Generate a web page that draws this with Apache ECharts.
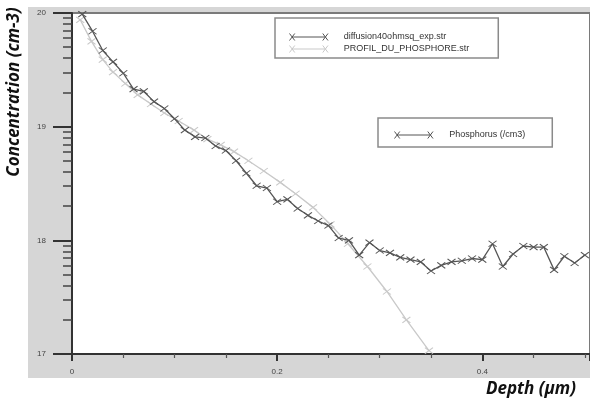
<!DOCTYPE html>
<html>
<head>
<meta charset="utf-8">
<script src="https://cdn.jsdelivr.net/npm/echarts@6/dist/echarts.min.js"></script>
<style>
  html, body { margin: 0; padding: 0; background: #fff; }
  #chart { width: 590px; height: 401px; }
</style>
</head>
<body>
<div id="chart"></div>
<script>
// measured profile (depth in um, log10 of concentration in /cm3)
const expDepth = [
  0.01, 0.02, 0.03, 0.04, 0.05, 0.06, 0.07, 0.08, 0.09, 0.10,
  0.11, 0.12, 0.13, 0.14, 0.15, 0.16, 0.17, 0.18, 0.19, 0.20,
  0.21, 0.22, 0.23, 0.24, 0.25, 0.26, 0.27, 0.28, 0.29, 0.30,
  0.31, 0.32, 0.33, 0.34, 0.35, 0.36, 0.37, 0.38, 0.39, 0.40,
  0.41, 0.42, 0.43, 0.44, 0.45, 0.46, 0.47, 0.48, 0.49, 0.50,
];
const expLogConc = [
  19.99, 19.84, 19.67, 19.57, 19.47, 19.33, 19.31, 19.22, 19.16, 19.07,
  18.97, 18.91, 18.90, 18.83, 18.79, 18.70, 18.59, 18.48, 18.46, 18.34,
  18.36, 18.28, 18.22, 18.17, 18.13, 18.02, 18.00, 17.87, 17.98, 17.91,
  17.89, 17.85, 17.83, 17.81, 17.73, 17.78, 17.81, 17.82, 17.84, 17.83,
  17.97, 17.77, 17.88, 17.95, 17.94, 17.94, 17.74, 17.86, 17.80, 17.87,
];

// simulated profile
const simDepth = [
  0.008, 0.019, 0.030, 0.040, 0.052, 0.064, 0.077, 0.090, 0.104, 0.119,
  0.132, 0.145, 0.158, 0.172, 0.187, 0.203, 0.218, 0.235, 0.252, 0.269,
  0.288, 0.307, 0.326, 0.348,
];
const simLogConc = [
  19.94, 19.75, 19.59, 19.48, 19.38, 19.28, 19.20, 19.12, 19.05, 18.97,
  18.89, 18.84, 18.78, 18.70, 18.61, 18.51, 18.41, 18.29, 18.14, 17.97,
  17.77, 17.55, 17.30, 17.03,
];

const yTicks = [17, 18, 19, 20];
const xTicks = [0, 0.2, 0.4];
const legendA = ['diffusion40ohmsq_exp.str', 'PROFIL_DU_PHOSPHORE.str'];
const legendB = ['Phosphorus (/cm3)'];

// minor ticks of the log axis: k * 10^n
const minorY = [];
for (let d = 17; d < 20; d++) {
  for (let k = 2; k <= 9; k++) minorY.push(d + Math.log10(k));
}

const CROSS = 'path://M0,0L10,8M10,0L0,8';
const LEG_ICON = 'path://M0,0L6,8M6,0L0,8M3,4L41,4M38,0L44,8M44,0L38,8';
const DARK = '#555555';
const LIGHT = '#c9c9c9';

const chart = echarts.init(document.getElementById('chart'));

const legendText = { fontSize: 9, color: '#333', fontFamily: 'Liberation Sans', padding: [0, 0, 0, 10] };

const option = {
  animation: false,
  graphic: [
    {
      type: 'rect',
      z: -10,
      shape: { x: 28, y: 7, width: 570, height: 371 },
      style: { fill: '#d6d6d6' },
    },
    {
      type: 'text',
      x: 14,
      y: 92,
      rotation: Math.PI / 2,
      style: {
        text: 'Concentration (cm-3)',
        font: 'italic bold 17px "Open Sans"',
        fill: '#111',
        align: 'center',
        verticalAlign: 'middle',
      },
    },
    {
      type: 'text',
      x: 531,
      y: 389,
      style: {
        text: 'Depth (\u00b5m)',
        font: 'italic bold 17px "Open Sans"',
        fill: '#111',
        align: 'center',
        verticalAlign: 'middle',
      },
    },
  ],
  grid: {
    left: 72,
    top: 13,
    right: -5,
    bottom: 47,
    show: true,
    backgroundColor: '#fff',
    borderColor: '#7a7a7a',
    borderWidth: 2,
  },
  legend: [
    {
      data: legendA.map((n, i) => ({
        name: n,
        icon: LEG_ICON,
        itemStyle: { color: 'none', borderColor: i ? LIGHT : DARK, borderWidth: 1 },
      })),
      orient: 'vertical',
      left: 275,
      top: 18,
      itemWidth: 40,
      itemHeight: 7,
      itemGap: 0,
      padding: [13, 29, 3, 12],
      borderColor: '#8a8a8a',
      borderWidth: 1.5,
      backgroundColor: '#fff',
      selectedMode: false,
      textStyle: legendText,
    },
    {
      data: legendB.map((n) => ({
        name: n,
        icon: LEG_ICON,
        itemStyle: { color: 'none', borderColor: DARK, borderWidth: 1 },
      })),
      left: 378,
      top: 118,
      itemWidth: 41,
      itemHeight: 7,
      padding: [11, 27, 6, 14],
      borderColor: '#8a8a8a',
      borderWidth: 1.5,
      backgroundColor: '#fff',
      selectedMode: false,
      textStyle: legendText,
    },
  ],
  xAxis: {
    type: 'value',
    min: 0,
    max: 0.505,
    interval: 0.2,
    splitLine: { show: false },
    axisLine: { lineStyle: { color: '#333', width: 2 } },
    axisTick: { length: 7, lineStyle: { color: '#333', width: 2 } },
    minorTick: { show: true, splitNumber: 4, length: 4, lineStyle: { color: '#555', width: 1.2 } },
    axisLabel: {
      fontSize: 8,
      color: '#444',
      margin: 14,
      fontFamily: 'Liberation Sans',
      customValues: xTicks,
    },
  },
  yAxis: [
    {
      type: 'value',
      min: 17,
      max: 20,
      interval: 1,
      splitLine: { show: false },
      axisLine: { lineStyle: { color: '#333', width: 2 } },
      axisTick: { length: 19, lineStyle: { color: '#333', width: 2 }, customValues: yTicks },
      axisLabel: {
        fontSize: 8,
        color: '#444',
        margin: 26,
        fontFamily: 'Liberation Sans',
        customValues: yTicks,
      },
    },
    {
      type: 'value',
      min: 17,
      max: 20,
      position: 'left',
      splitLine: { show: false },
      axisLine: { show: false },
      axisLabel: { show: false },
      axisTick: { length: 9, lineStyle: { color: '#444', width: 1.5 }, customValues: minorY },
    },
  ],
  series: [
    {
      name: legendA[0],
      type: 'line',
      data: expDepth.map((d, i) => [d, expLogConc[i]]),
      symbol: CROSS,
      symbolSize: [8, 6],
      lineStyle: { color: DARK, width: 1.3 },
      itemStyle: { color: 'none', borderColor: DARK, borderWidth: 1 },
      z: 3,
    },
    {
      name: legendA[1],
      type: 'line',
      data: simDepth.map((d, i) => [d, simLogConc[i]]),
      symbol: CROSS,
      symbolSize: [8, 6],
      lineStyle: { color: LIGHT, width: 1.3 },
      itemStyle: { color: 'none', borderColor: LIGHT, borderWidth: 1 },
      z: 2,
    },
    {
      name: legendB[0],
      type: 'line',
      data: [],
      lineStyle: { color: DARK },
      itemStyle: { color: DARK },
    },
  ],
};

chart.setOption(option);
</script>
</body>
</html>
